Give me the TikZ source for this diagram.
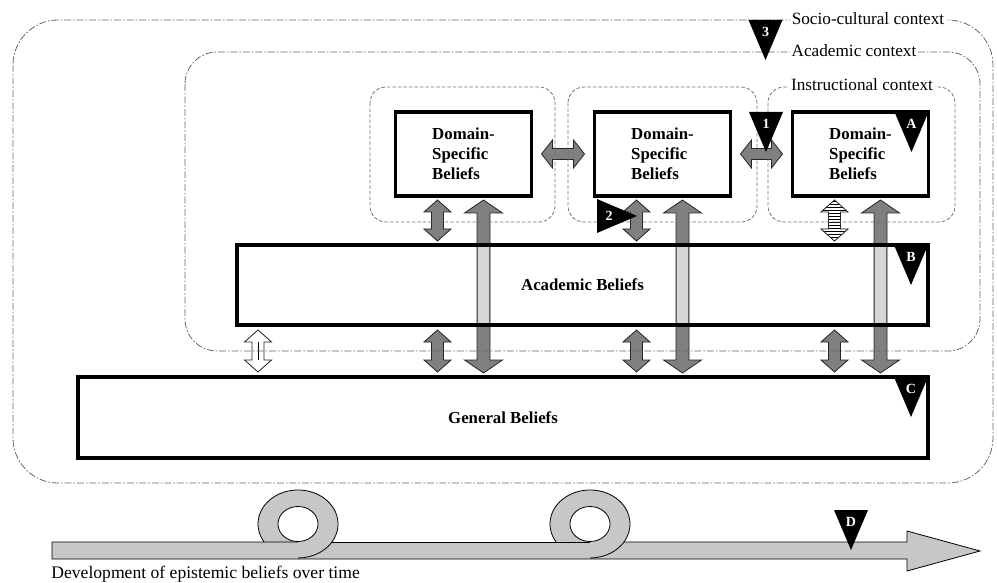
\documentclass[tikz,border=0pt]{standalone}
\usepackage{fontspec}
\setmainfont{Liberation Serif}
\usepackage{tikz}
\usetikzlibrary{calc,patterns}

\definecolor{arrgray}{gray}{0.5}
\definecolor{shaftgray}{gray}{0.84}
\definecolor{timegray}{gray}{0.78}

% point along a block arrow (used inside the let of blk)
\newcommand\bpt[2]{({\x1+(#1)*\n2-(#2)*\n3},{\y1+(#1)*\n3+(#2)*\n2})}

\tikzset{
  blk/.style args={#1/#2/#3/#4}{to path={
    let \p1=(\tikztostart), \p2=(\tikztotarget),
        \n1={veclen(\x2-\x1,\y2-\y1)},
        \n2={(\x2-\x1)/\n1}, \n3={(\y2-\y1)/\n1},
        \n5={#4+#1}, \n6={\n1-#4-#1}, \n7={\n1-#4}
    in \bpt{#4}{0} -- \bpt{\n5}{#2} -- \bpt{\n5}{#3} -- \bpt{\n6}{#3}
       -- \bpt{\n6}{#2} -- \bpt{\n7}{0} -- \bpt{\n6}{-#2} -- \bpt{\n6}{-#3}
       -- \bpt{\n5}{-#3} -- \bpt{\n5}{-#2} -- cycle}},
  flag/.pic={
    \fill[black] (-17,0) -- (17,0) -- (0,40) -- cycle;
    \node[text=white,font=\bfseries\fontsize{14}{14}\selectfont,inner sep=0pt] (-t) at (0,12) {#1};
  }
}

\begin{document}
\begin{tikzpicture}[x=1pt,y=-1pt,line width=0.8pt]
\tikzset{box/.style={draw=black,line width=3.2pt,fill=white,inner sep=0pt,outer sep=0pt,font=\bfseries\fontsize{16.8}{20}\selectfont},
  dsbox/.style={box,minimum width=136pt,minimum height=84pt,align=left},
  ctx/.style={draw=black!60,line width=0.8pt,dash pattern=on 7pt off 2pt on 1.5pt off 2pt},
  dashbox/.style={draw=black!55,line width=0.8pt,dash pattern=on 3.5pt off 2pt,rounded corners=16pt},
  ctxlabel/.style={fill=white,inner sep=2pt,font=\fontsize{17.2}{20}\selectfont},
  dark/.style={fill=arrgray,draw=black!85,line width=0.8pt}}
\useasboundingbox (0,0) rectangle (997,583);

% ---------- time arrow ----------
\fill[timegray] (52,542) -- (52,559) -- (907,559) -- (907,571) -- (980,551) -- (907,531) -- (907,542) -- cycle;
\fill[timegray] (298,524) ellipse [x radius=40,y radius=34];
\fill[timegray] (590,524) ellipse [x radius=40,y radius=34];
\filldraw[fill=white] (298,524) ellipse [x radius=20,y radius=17.5];
\filldraw[fill=white] (590,524) ellipse [x radius=20,y radius=17.5];
\draw (298,542) -- (52,542) -- (52,559) -- (907,559) -- (907,571) -- (980,551) -- (907,531) -- (907,542) -- (624,542);
\draw (332,542) -- (590,542);
\draw (264.1,542) arc[start angle=212,end angle=-90,x radius=40pt,y radius=34pt];
\draw (556.1,542) arc[start angle=212,end angle=-90,x radius=40pt,y radius=34pt];
\node[anchor=west,inner sep=0pt,font=\fontsize{17.6}{20}\selectfont] (dev) at (51,574) {Development of epistemic beliefs over time};

% ---------- beliefs ----------
\node[dsbox] (D1) at (463.5,154) {Domain-\\Specific\\Beliefs};
\node[dsbox] (D2) at (662.5,154) {Domain-\\Specific\\Beliefs};
\node[dsbox] (D3) at (860.5,154) {Domain-\\Specific\\Beliefs};
\node[box,minimum width=691pt,minimum height=80pt] (AB) at (582.5,285) {Academic Beliefs};
\node[box,minimum width=850pt,minimum height=81pt] (GB) at (503,417.5) {General Beliefs};

\coordinate (s0) at ([xshift=21pt]AB.south west);
\coordinate (s1) at ([xshift=-26pt]D1.south);
\coordinate (s2) at ([xshift=-26pt]D2.south);
\coordinate (s3) at ([xshift=-26pt]D3.south);
\coordinate (t1) at ([xshift=20pt]D1.south);
\coordinate (t2) at ([xshift=20pt]D2.south);
\coordinate (t3) at ([xshift=20pt]D3.south);

% ---------- arrows ----------
\draw[blk=11/14/5.5/10,dark] (D1.east) to (D2.west);
\draw[blk=11/14/5.5/10,dark] (D2.east) to (D3.west);

\draw[blk=12/13.5/6/4,dark] (s1) to (s1 |- AB.north);
\draw[blk=12/13.5/6/4,dark] (s2) to (s2 |- AB.north);
\draw[blk=12/13.5/6/4,pattern=horizontal lines,draw=black!85] (s3) to (s3 |- AB.north);

\draw[blk=12/13.5/6/5,fill=white,draw=black!85] (s0) to (s0 |- GB.north);
\draw ($(s0)+(0,17)$) -- ($(s0 |- GB.north)+(0,-17)$);
\draw[blk=12/13.5/6/5,dark] (s1 |- AB.south) to (s1 |- GB.north);
\draw[blk=12/13.5/6/5,dark] (s2 |- AB.south) to (s2 |- GB.north);
\draw[blk=12/13.5/6/5,dark] (s3 |- AB.south) to (s3 |- GB.north);

\draw[blk=13/19/6.5/4,dark] (t1) to (t1 |- GB.north);
\draw[blk=13/19/6.5/4,dark] (t2) to (t2 |- GB.north);
\draw[blk=13/19/6.5/4,dark] (t3) to (t3 |- GB.north);

\fill[shaftgray] ($(t1 |- AB.north)+(-5.8,0)$) rectangle ($(t1 |- AB.south)+(5.8,0)$);
\fill[shaftgray] ($(t2 |- AB.north)+(-5.8,0)$) rectangle ($(t2 |- AB.south)+(5.8,0)$);
\fill[shaftgray] ($(t3 |- AB.north)+(-5.8,0)$) rectangle ($(t3 |- AB.south)+(5.8,0)$);
\draw[line width=3.2pt] (AB.south west) rectangle (AB.north east);

% ---------- contexts ----------
\draw[ctx,rounded corners=45pt] (13,20) rectangle (993,483);
\draw[ctx,rounded corners=32pt] (185,52) rectangle (980,351);
\draw[dashbox] (370,87) rectangle (555,222);
\draw[dashbox] (568,87) rectangle (757,222);
\draw[dashbox] (768,87) rectangle (955,222);

\node[ctxlabel] (soc) at (868,19) {Socio-cultural context};
\node[ctxlabel] (acad) at (854,51) {Academic context};
\node[ctxlabel] (inst) at (862,85) {Instructional context};

% ---------- markers ----------
\pic (m3) at (765.5,20) {flag=3};
\pic (m1) at (766,112) {flag=1};
\pic[rotate=90] (m2) at (597,216) {flag=2};
\pic (mA) at ([xshift=-17pt]D3.north east) {flag=A};
\pic (mB) at ([xshift=-17pt]AB.north east) {flag=B};
\pic (mC) at ([xshift=-17pt]GB.north east) {flag=C};
\pic (mD) at (851,510) {flag=D};

\end{tikzpicture}
\end{document}
